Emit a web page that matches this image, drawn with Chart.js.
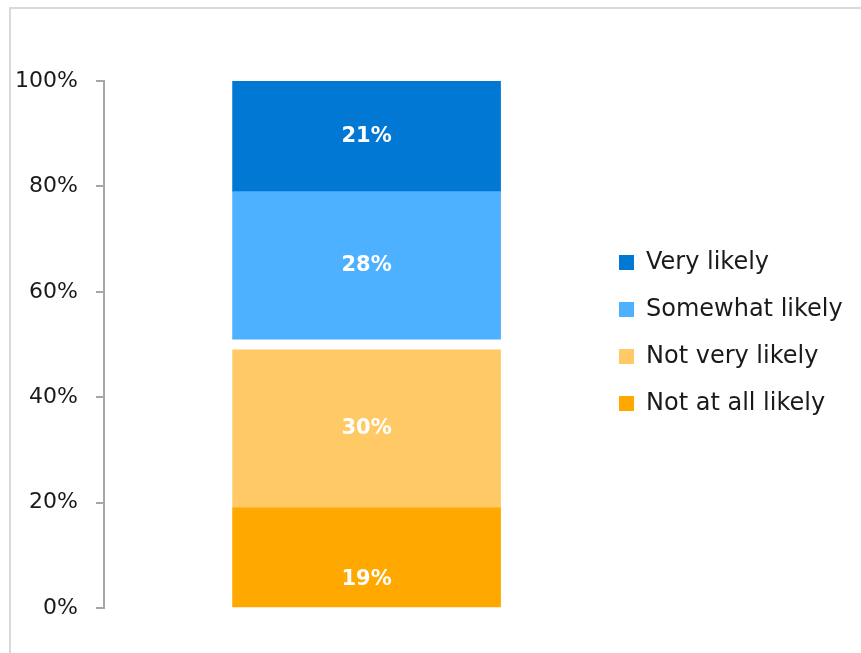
<!DOCTYPE html>
<html>
<head>
<meta charset="utf-8">
<title>Likelihood</title>
<script src="https://cdn.jsdelivr.net/npm/chart.js@4.4.1/dist/chart.umd.min.js"></script>
<style>
  html, body { margin: 0; padding: 0; background: #fff; overflow: hidden; }
  .frame { position: absolute; left: 9px; top: 7px; width: 900px; height: 700px; border: 2px solid #d9d9d9; }
  .wrap { position: absolute; left: 0; top: 0; width: 861px; height: 653px; }
</style>
</head>
<body>
<div class="frame"></div>
<div class="wrap"><canvas id="likelyChart" width="861" height="653"></canvas></div>
<script>
// answers, bottom of the stack first
const answerLabels = ['Not at all likely', 'Not very likely', 'Somewhat likely', 'Very likely'];
const answerShares = [19, 30, 28, 21];
const answerColors = ['#FFA800', '#FFCA66', '#4DB1FF', '#0078D4'];

// "don't know" share, left blank between the two halves
const unsureLabel = "Don't know";
const unsureShare = 2;

const yTicks = [0, 20, 40, 60, 80, 100];

const FONT = '"DejaVu Sans", sans-serif';
const LEGEND_LEFT = 596;   // where the legend column starts
Chart.defaults.font.family = FONT;
Chart.defaults.color = '#1a1a1a';

const datasets = answerLabels.map((label, i) => ({
    label,
    data: [{ x: 0, y: answerShares[i] }],
    backgroundColor: answerColors[i],
    borderWidth: 0
}));
datasets.splice(2, 0, {
    label: unsureLabel,
    data: [{ x: 0, y: unsureShare }],
    backgroundColor: 'rgba(0,0,0,0)',
    borderWidth: 0,
    hideValue: true
});
// the bottom label sits a little low in its block
datasets[0].valueShift = 22;

// white % labels in the middle of each block
const valueLabels = {
    id: 'valueLabels',
    afterDatasetsDraw(chart) {
        const ctx = chart.ctx;
        ctx.save();
        ctx.font = 'bold 21px ' + FONT;
        ctx.fillStyle = '#ffffff';
        ctx.textAlign = 'center';
        ctx.textBaseline = 'middle';
        chart.data.datasets.forEach((ds, i) => {
            if (ds.hideValue) return;
            chart.getDatasetMeta(i).data.forEach((bar, j) => {
                const { x, y, base } = bar.getProps(['x', 'y', 'base'], true);
                ctx.fillText(ds.data[j].y + '%', x, (y + base) / 2 + (ds.valueShift || 0));
            });
        });
        ctx.restore();
    }
};

const chart = new Chart(document.getElementById('likelyChart'), {
    type: 'bar',
    data: { datasets },
    options: {
        responsive: false,
        animation: false,
        barThickness: 268,
        layout: { padding: { top: 58, right: 10, bottom: 45, left: 0 } },
        scales: {
            x: {
                type: 'linear',
                stacked: true,
                min: -1.03,
                max: 0.87,
                display: false
            },
            y: {
                stacked: true,
                min: 0,
                max: 100,
                afterBuildTicks(scale) {
                    scale.ticks = yTicks.map(v => ({ value: v }));
                },
                ticks: {
                    padding: 18,
                    color: '#1a1a1a',
                    font: { size: 22 },
                    callback: v => v + '%'
                },
                grid: { drawOnChartArea: false, tickLength: 8, color: '#a6a6a6', lineWidth: 2 },
                border: { color: '#a6a6a6', width: 2 },
                afterFit(scale) { scale.width = 104; }
            }
        },
        plugins: {
            title: { display: true, text: '', padding: 0, font: { size: 12, lineHeight: '23px' } },
            legend: {
                position: 'right',
                reverse: true,
                maxWidth: 400,
                labels: {
                    boxWidth: 15,
                    boxHeight: 15,
                    padding: 23,
                    color: '#1a1a1a',
                    font: { size: 24 },
                    filter: item => item.text !== unsureLabel
                }
            },
            tooltip: { enabled: false }
        }
    },
    plugins: [valueLabels]
});

// right padding so the legend column starts at LEGEND_LEFT
chart.options.layout.padding.right = chart.width - LEGEND_LEFT - chart.legend.width;
chart.update();
</script>
</body>
</html>
